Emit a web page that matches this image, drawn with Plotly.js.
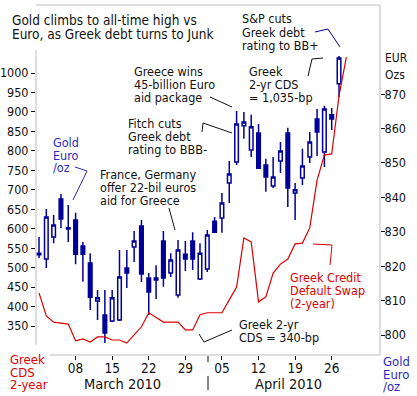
<!DOCTYPE html>
<html><head><meta charset="utf-8">
<script src="https://cdn.plot.ly/plotly-3.0.1.min.js"></script>
<style>html,body{margin:0;padding:0;background:#fff;} #chart{width:417px;height:396px;}</style>
</head><body><div id="chart"></div>
<script>
const dates = ['2010-03-01','2010-03-02','2010-03-03','2010-03-04','2010-03-05',
 '2010-03-08','2010-03-09','2010-03-10','2010-03-11','2010-03-12',
 '2010-03-15','2010-03-16','2010-03-17','2010-03-18','2010-03-19',
 '2010-03-22','2010-03-23','2010-03-24','2010-03-25','2010-03-26',
 '2010-03-29','2010-03-30','2010-03-31','2010-04-01','2010-04-02',
 '2010-04-05','2010-04-06','2010-04-07','2010-04-08','2010-04-09',
 '2010-04-12','2010-04-13','2010-04-14','2010-04-15','2010-04-16',
 '2010-04-19','2010-04-20','2010-04-21','2010-04-22','2010-04-23',
 '2010-04-26','2010-04-27'];
const cdsDates = dates.concat(['2010-04-28']);

const goldOpen  = [823.3,822.1,828.5,839.5,831.2,833.4,825.9,820.9,809.9,805.8,804.1,804.4,819.5,825.6,831.7,816.6,816.6,827.3,818.0,811.6,823.5,827.3,816.3,819.2,833.1,834.0,844.2,850.3,860.8,853.8,858.7,849.4,843.3,850.6,858.7,841.3,845.6,851.7,862.8,853.2,864.0,873.0];
const goldHigh  = [828.5,836.6,834.9,841.0,837.8,835.5,827.0,823.8,813.1,813.1,813.1,824.7,824.7,830.2,833.4,818.0,820.3,830.2,823.8,827.6,827.3,829.9,826.7,830.5,834.3,841.3,850.6,865.1,864.8,864.0,861.3,851.2,851.7,856.1,860.2,844.2,854.1,859.0,865.7,866.6,866.0,881.1];
const goldLow   = [822.4,819.5,826.7,831.1,827.0,820.6,815.5,807.3,804.4,797.7,803.8,804.1,813.7,821.2,815.4,805.8,810.5,814.0,816.9,810.8,818.6,818.9,816.0,818.3,829.7,829.7,838.4,849.4,857.0,851.7,848.3,841.6,842.7,847.1,837.2,833.4,843.6,850.0,852.0,848.8,859.6,869.2];
const goldClose = [823.8,834.3,832.0,833.7,830.8,823.5,823.5,811.0,810.8,800.6,810.8,816.9,818.0,827.3,817.7,812.5,816.0,816.6,821.8,824.7,822.1,822.1,823.8,829.1,829.9,838.4,846.8,861.3,861.9,860.5,848.5,845.9,845.9,853.5,842.7,842.2,849.1,856.1,859.0,865.7,862.8,880.5];

const cdsBp = [435,376,360,358,355,312,317,309,322,322,314,314,306,327,348,384,371,360,360,360,340,340,379,384,384,384,417,450,576,566,412,425,486,509,522,561,563,602,725,789,792,941,1041];

const xTickVals = ['2010-03-08','2010-03-15','2010-03-22','2010-03-29','2010-04-05','2010-04-12','2010-04-19','2010-04-26'];
const xTickText = ['08','15','22','29','05','12','19','26'];
const leftTicks = [350,400,450,500,550,600,650,700,750,800,850,900,950,1000];
const rightTicks = [800,810,820,830,840,850,860,870];

const FONT = '"DejaVu Sans Condensed", "DejaVu Sans", sans-serif';
const NAVY = '#000099', RED = '#dd0000', BLUE = '#2b2bbf', INK = '#111111', FRAME = '#bdbdbd';

const L=36, R=380, T=5, B=355;
function px(x){return (x-L)/(R-L);}
function py(y){return (B-y)/(B-T);}

const annotations = [];
function lines(arr, x, ys, color, size, anchor){
  arr.forEach((t,i)=>annotations.push({xref:'paper',yref:'paper',x:px(x),y:py(ys[i]),text:t,showarrow:false,
    xanchor:anchor||'left',yanchor:'middle',borderpad:0,font:{family:FONT,size:size||12.5,color:color||INK}}));
}
lines(['Gold climbs to all-time high vs','Euro, as Greek debt turns to Junk'],11,[20.5,34],INK,13.5);
lines(['Greece wins','45-billion Euro','aid package'],133,[71.5,84.5,97.5]);
lines(['Fitch cuts','Greek debt','rating to BBB-'],127,[123.5,136.5,149.5]);
lines(['France, Germany','offer 22-bil euros','aid for Greece'],99,[174.5,187.5,200.5]);
lines(['Gold','Euro','/oz'],52,[142.5,155,167.5],BLUE);
lines(['S&amp;P cuts','Greek debt','rating to BB+'],241,[18.5,32,45.5]);
lines(['Greek','2-yr CDS','= 1,035-bp'],248,[71.5,84.5,97.5]);
lines(['Greek Credit','Default Swap','(2-year)'],289,[277.5,290.5,303.5],RED);
lines(['Greek 2-yr','CDS = 340-bp'],238,[324.5,337.5]);
lines(['EUR','Ozs'],384,[58.5,74.5],INK,12);
lines(['Gold','Euro','/oz'],382,[361.5,374.5,386.5],BLUE,13);
lines(['Greek','CDS','2-year'],9,[359.5,372.5,385],RED,13);
lines(['March 2010'],122,[384],INK,14.5,'center');
lines(['April 2010'],288,[384],INK,14.5,'center');

function path(pts, color){
  const d = pts.map((p,i)=>(i?'L':'M')+px(p[0]).toFixed(4)+','+py(p[1]).toFixed(4)).join(' ');
  return {type:'path',xref:'paper',yref:'paper',path:d,line:{color:color,width:1}};
}
const shapes = [
  path([[L,T],[R,T]],FRAME),
  path([[R,T],[R,B]],FRAME),
  path([[50,B],[R,B]],FRAME),
  path([[L,50],[L,345]],FRAME),
  path([[208,356],[208,362]],INK),
  path([[208,376],[208,390]],INK),
  path([[75,167],[87,171],[73,200]],BLUE),
  path([[169,208],[175,230]],INK),
  path([[202,132],[203,123],[232,133]],INK),
  path([[210,97],[232,107]],INK),
  path([[315,32],[328,29],[340,47]],NAVY),
  path([[308,76],[312,59],[323,58]],INK),
  path([[199,334],[204,342],[232,330]],INK),
  path([[313,244],[332,245],[330,265]],RED)
];

const gold = {type:'candlestick',x:dates,open:goldOpen,high:goldHigh,low:goldLow,close:goldClose,
  xaxis:'x',yaxis:'y',hoverinfo:'skip',whiskerwidth:0,
  increasing:{line:{color:NAVY,width:1.5},fillcolor:'#ffffff'},
  decreasing:{line:{color:NAVY,width:1.5},fillcolor:NAVY}};
const cds = {type:'scatter',mode:'lines',x:cdsDates,y:cdsBp,xaxis:'x',yaxis:'y2',
  line:{color:RED,width:1.2},hoverinfo:'skip'};

const layout = {
  width:417,height:396,margin:{l:L,r:417-R,t:T,b:396-B},
  paper_bgcolor:'#ffffff',plot_bgcolor:'rgba(0,0,0,0)',showlegend:false,
  font:{family:FONT,size:12.5,color:INK},
  xaxis:{type:'category',categoryorder:'array',categoryarray:cdsDates,range:[-0.41,46.6],
    tickmode:'array',tickvals:xTickVals,ticktext:xTickText,ticks:'outside',ticklen:4,tickcolor:INK,
    ticklabelstandoff:-3,
    showgrid:false,zeroline:false,showline:false,rangeslider:{visible:false},
    tickfont:{family:FONT,size:13.5,color:INK}},
  yaxis:{side:'right',range:[794.2,895.9],tickmode:'array',tickvals:rightTicks,ticks:'outside',ticklen:4,
    ticklabelstandoff:-3,
    tickcolor:INK,showgrid:false,zeroline:false,showline:false,tickfont:{family:FONT,size:12.5,color:INK}},
  yaxis2:{overlaying:'y',side:'left',range:[275.5,1174.7],tickmode:'array',tickvals:leftTicks,ticks:'outside',
    ticklen:4,tickcolor:INK,showgrid:false,zeroline:false,showline:false,tickfont:{family:FONT,size:12.5,color:INK}},
  annotations:annotations,shapes:shapes
};
Plotly.newPlot('chart',[gold,cds],layout,{staticPlot:true,displayModeBar:false});
</script></body></html>
